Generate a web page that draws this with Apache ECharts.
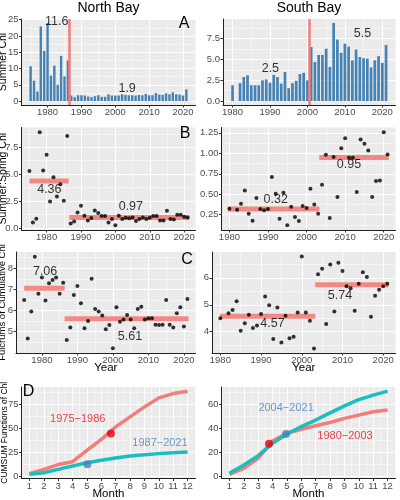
<!DOCTYPE html>
<html><head><meta charset="utf-8">
<script src="https://cdn.jsdelivr.net/npm/echarts@6/dist/echarts.min.js"></script>
<style>html,body{margin:0;padding:0;background:#fff}#c{width:400px;height:500px}</style>
</head><body><div id="c"></div>
<script>
// ---------------- DATA ----------------
const northYears = [1975,1976,1977,1978,1979,1980,1981,1982,1983,1984,1985,1986,1987,1988,1989,1990,1991,1992,1993,1994,1995,1996,1997,1998,1999,2000,2001,2002,2003,2004,2005,2006,2007,2008,2009,2010,2011,2012,2013,2014,2015,2016,2017,2018,2019,2020,2021];
const southYears = [1980,1982,1983,1984,1985,1986,1987,1988,1989,1990,1991,1992,1993,1994,1995,1996,1997,1998,1999,2000,2001,2002,2003,2004,2005,2006,2007,2008,2009,2010,2011,2012,2013,2014,2015,2016,2017,2018,2019,2020,2021];

// Panel A: summer Chl
const northSummerChl = [10.7,6.25,2.9,22.9,15.4,24.0,7.8,10.9,5.0,13.9,7.6,12.5,
  1.7,1.2,1.8,1.8,1.7,1.4,1.2,1.5,1.8,1.3,1.3,2.1,1.7,1.7,1.7,2.1,1.9,1.8,1.8,1.7,1.9,1.8,2.2,1.8,1.8,2.5,2.0,1.9,2.4,2.1,2.7,2.1,2.0,1.7,3.6];
const southSummerChl = [1.9,2.15,2.9,3.1,1.9,1.9,1.9,2.5,2.6,2.2,3.15,2.9,2.1,3.5,1.55,2.15,2.45,3.25,3.4,2.5,
  6.5,4.7,5.55,5.55,6.3,4.1,9.4,7.4,5.8,6.9,6.55,4.9,6.2,5.3,5.15,5.1,4.05,4.9,5.4,4.6,6.75];
const northBreakYear = 1986.5;
const southBreakYear = 2000.5;

// Panel B: summer:spring ratio
const northRatio = [5.3,0.52,0.86,8.9,5.35,6.8,2.47,4.72,2.93,4.07,2.53,8.55,
  0.43,0.62,1.45,2.07,1.14,0.71,0.93,1.64,1.39,1.11,1.11,0.52,0.83,0.25,1.14,0.83,0.96,0.9,0.99,0.65,0.83,0.99,0.83,0.96,1.11,1.11,0.71,0.71,1.6,0.83,0.8,1.23,1.23,1.05,0.99];
const southRatio = [0.323,0.311,0.384,0.547,0.262,0.177,0.453,0.319,0.303,0.319,0.709,0.506,0.201,0.518,0.12,0.348,0.222,0.173,0.356,0.331,0.567,0.376,0.262,
  0.616,0.982,0.209,0.955,0.465,1.063,1.185,0.945,0.945,0.526,1.169,1.116,1.035,0.465,0.66,0.669,1.258,0.986];
// period means: [startYear, endYear, mean]
const northRatioMeans = [[1975,1986.4,4.36],[1986.6,2021.5,0.97]];
const southRatioMeans = [[1979.7,2003.3,0.32],[2003.3,2021.3,0.95]];

// Panel C: fulcrums of cumulative Chl
const northFulcrum = [6.5,4.68,5.95,8.55,6.79,7.56,6.47,7.29,7.45,7.56,6.79,7.32,
  4.6,5.2,6.74,7.16,6.34,5.16,5.5,7.5,6.07,5.95,5.76,5.11,5.32,4.21,6.15,5.47,5.58,5.79,5.58,5.16,6.07,6.18,5.58,5.63,5.63,5.33,5.32,5.33,6.5,5.33,5.2,5.87,6.15,5.24,6.55];
const southFulcrum = [4.5,4.69,4.81,5.13,4.04,4.31,4.63,4.14,4.23,4.66,5.31,4.98,3.73,4.9,3.6,4.59,3.76,3.81,4.71,6.79,4.71,4.41,3.38,
  6.13,6.34,4.29,6.5,4.75,6.56,6.25,5.69,5.61,4.78,5.78,6.21,6.03,4.56,5.34,5.56,5.69,5.78];
const northFulcrumMeans = [[1975,1986.4,7.06],[1986.4,2021.3,5.61]];
const southFulcrumMeans = [[1979.9,2003.3,4.57],[2003.3,2021.3,5.74]];

// Panel D: CUMSUM functions
const months = [1,2,3,4,5,6,7,8,9,10,11,12];
const northEarlyCum = [2.5,7,12,15,27,38.5,51.5,62,72.5,82,86.5,89];
const northLateCum  = [1.75,3.5,7,10.5,14,16.5,19,21,22.4,23.5,24.5,25.2];
const southEarlyCum = [1.9,6.9,15.2,29.6,36,39.3,42.3,45,48.4,51.1,53.9,55.3];
const southLateCum  = [2.8,9.7,17.4,27.6,35.4,41.5,47,53,58.8,64,67.7,71];
const northEarlyFulcrum = [6.67,44.5];
const northLateFulcrum  = [5.03,12.3];
const southEarlyFulcrum = [3.75,27.4];
const southLateFulcrum  = [4.94,35.4];

// Tick labels
const yearTicks = ['1980','1990','2000','2010','2020'];
const monthTicks = ['1','2','3','4','5','6','7','8','9','10','11','12'];
const yTicksAN = ['0','5','10','15','20','25'];
const yTicksAS = ['0.0','2.5','5.0','7.5'];
const yTicksBN = ['0.0','2.5','5.0','7.5'];
const yTicksBS = ['0.25','0.50','0.75','1.00','1.25'];
const yTicksCN = ['5','6','7','8'];
const yTicksCS = ['4','5','6'];
const yTicksDN = ['0','25','50','75'];
const yTicksDS = ['0','20','40','60'];

// ---------------- STYLE / LAYOUT ----------------
const FONT = '"Liberation Sans", Arial, Helvetica, sans-serif';
const NARROW = '"Liberation Sans Narrow", "Arial Narrow", "Liberation Sans", sans-serif';
const SALMON = '#F27E79';
const TEAL = '#1CBDBE';
const STEEL = '#4682B4';

const grids = [], xAxes = [], yAxes = [], series = [];
function num(a){return a.map(Number);}
function minorOf(ticks){
  const t = num(ticks); const step = t[1]-t[0]; const out=[];
  for (let v = t[0]-step/2; v <= t[t.length-1]+step; v += step) out.push(+v.toFixed(6));
  return out;
}
function fmt(labels){
  const vals = num(labels);
  return function(v){ const i = vals.findIndex(x => Math.abs(x - v) < 1e-6); return i >= 0 ? labels[i] : ''; };
}
function addPanel(rect, xExt, yExt, xLabels, yLabels, xName, yName, yNameGap, yNameSize){
  const gi = grids.length;
  grids.push({left:rect[0], top:rect[1], width:rect[2], height:rect[3], show:true,
    backgroundColor:'#EBEBEB', borderWidth:0, containLabel:false, outerBoundsMode:'none'});
  const common = (ext) => ({type:'value', gridIndex:gi, min:ext[0], max:ext[1], scale:true});
  const xi = xAxes.length, yi = yAxes.length;
  const xv = num(xLabels), yv = num(yLabels);
  xAxes.push(Object.assign(common(xExt), {position:'bottom',
    axisLine:{show:true, onZero:false, lineStyle:{color:'#222', width:1}},
    axisTick:{show:true, length:2.5, lineStyle:{color:'#333'}, customValues:xv},
    axisLabel:{show:true, customValues:xv, formatter:fmt(xLabels), color:'#4D4D4D', fontSize:9.5, fontFamily:FONT, margin:2.5},
    splitLine:{show:true, lineStyle:{color:'#fff', width:1}},
    name:xName||'', nameLocation:'middle', nameGap:9, nameMoveOverlap:false,
    nameTextStyle:{color:'#000', fontSize:11.5, fontFamily:FONT, verticalAlign:'top'}}));
  xAxes.push(Object.assign(common(xExt), {position:'top', axisLine:{show:false},
    axisTick:{show:false, customValues:minorOf(xLabels).filter(v=>v>xExt[0]&&v<xExt[1])},
    axisLabel:{show:false}, splitLine:{show:true, lineStyle:{color:'#fff', width:0.5}}}));
  yAxes.push(Object.assign(common(yExt), {position:'left',
    axisLine:{show:true, onZero:false, lineStyle:{color:'#222', width:1}},
    axisTick:{show:true, length:2.5, lineStyle:{color:'#333'}, customValues:yv},
    axisLabel:{show:true, customValues:yv, formatter:fmt(yLabels), color:'#4D4D4D', fontSize:9.5, fontFamily:FONT, margin:3},
    splitLine:{show:true, lineStyle:{color:'#fff', width:1}},
    name:yName||'', nameLocation:'middle', nameRotate:90, nameGap:yNameGap||10, nameMoveOverlap:false,
    nameTextStyle:{color:'#000', fontSize:yNameSize||10.5, fontFamily:FONT}}));
  yAxes.push(Object.assign(common(yExt), {position:'right', axisLine:{show:false},
    axisTick:{show:false, customValues:minorOf(yLabels).filter(v=>v>yExt[0]&&v<yExt[1])},
    axisLabel:{show:false}, splitLine:{show:true, lineStyle:{color:'#fff', width:0.5}}}));
  return {xAxisIndex:xi, yAxisIndex:yi};
}
function zip(a,b){return a.map((v,i)=>[v,b[i]]);}
function textSeries(ax, items, color, size, font){
  series.push(Object.assign({type:'scatter', silent:true, z:10, symbolSize:1,
    itemStyle:{color:'transparent'},
    data: items.map(t => ({value:[t[0], t[1]], name:t[2]})),
    label:{show:true, position:'inside', formatter:'{b}', color:color, fontSize:size, fontFamily:font||NARROW}}, ax));
}
function meanSegs(ax, segs){
  segs.forEach(s => series.push(Object.assign({type:'line', silent:true, z:2, symbol:'none',
    data:[[s[0],s[2]],[s[1],s[2]]], lineStyle:{color:SALMON, width:5, opacity:0.9, cap:'butt'}}, ax)));
}
function dots(ax, years, vals){
  series.push(Object.assign({type:'scatter', silent:true, z:5, symbolSize:4, itemStyle:{color:'#000'},
    data: zip(years, vals)}, ax));
}

// Panel A
const aN = addPanel([21.5,19,174,86], [1972.3,2023.7], [-1.2,25.2], yearTicks, yTicksAN, '', 'Summer Chl', 12.5, 10.5);
series.push(Object.assign({type:'bar', barWidth:2.4, itemStyle:{color:STEEL}, data:zip(northYears, northSummerChl),
  markLine:{symbol:'none', silent:true, label:{show:false}, lineStyle:{color:SALMON, width:2.5, type:'solid'}, data:[{xAxis:northBreakYear}]}}, aN));
textSeries(aN, [[1982.7,24.4,'11.6'],[2003.5,3.7,'1.9']], '#000', 12.5);
const aS = addPanel([223,19,172.6,86], [1977.45,2023.55], [-0.47,9.87], yearTicks, yTicksAS, '', '', 0);
series.push(Object.assign({type:'bar', barWidth:2.7, itemStyle:{color:STEEL}, data:zip(southYears, southSummerChl),
  markLine:{symbol:'none', silent:true, label:{show:false}, lineStyle:{color:SALMON, width:2.5, type:'solid'}, data:[{xAxis:southBreakYear}]}}, aS));
textSeries(aS, [[1990.1,3.94,'2.5'],[2014.7,8.15,'5.5']], '#000', 12.5);

// Panel B
const bN = addPanel([21.5,127.5,174,102.5], [1972.7,2023.3], [-0.18,9.33], yearTicks, yTicksBN, '', 'Summer:Spring Chl', 12.5, 10.5);
meanSegs(bN, northRatioMeans); dots(bN, northYears, northRatio);
textSeries(bN, [[1980.8,3.53,'4.36'],[2004.5,1.98,'0.97']], '#000', 12.5);
const bS = addPanel([221.5,127.5,174,102.5], [1977.95,2023.05], [0.063,1.315], yearTicks, yTicksBS, '', '', 0);
meanSegs(bS, southRatioMeans); dots(bS, southYears, southRatio);
textSeries(bS, [[1992,0.43,'0.32'],[2011,0.857,'0.95']], '#000', 12.5);

// Panel C
const cN = addPanel([16,252,179.6,101], [1972.7,2023.3], [3.99,8.77], yearTicks, yTicksCN, 'Year', 'Fulcrums of Cumulative Chl', 8.5, 9.5);
meanSegs(cN, northFulcrumMeans); dots(cN, northYears, northFulcrum);
textSeries(cN, [[1980.9,7.84,'7.06'],[2004.8,4.79,'5.61']], '#000', 12.5);
const cS = addPanel([212,252,183.6,101], [1977.95,2023.05], [3.21,6.96], yearTicks, yTicksCS, 'Year', '', 0);
meanSegs(cS, southFulcrumMeans); dots(cS, southYears, southFulcrum);
textSeries(cS, [[1992.8,4.31,'4.57'],[2009.4,5.33,'5.74']], '#000', 12.5);

// Panel D
const dN = addPanel([21.5,387,174,91.5], [0.45,12.55], [-2.6,93.4], monthTicks, yTicksDN, 'Month', 'CUMSUM Functions of Chl', 12.5, 8.5);
function cumLine(ax, vals, color){
  series.push(Object.assign({type:'line', silent:true, z:3, symbol:'none', data:zip(months, vals),
    lineStyle:{color:color, width:3.5, join:'round'}}, ax));
}
function fulcrumDot(ax, pt, color){
  series.push(Object.assign({type:'scatter', silent:true, z:6, symbolSize:8, itemStyle:{color:color}, data:[pt]}, ax));
}
cumLine(dN, northEarlyCum, SALMON); cumLine(dN, northLateCum, TEAL);
fulcrumDot(dN, northEarlyFulcrum, '#E8000B'); fulcrumDot(dN, northLateFulcrum, '#4A80B8');
textSeries(dN, [[4.36,59.8,'1975\u22121986']], '#E8141C', 11);
textSeries(dN, [[10.08,34.3,'1987\u22122021']], '#4A80B8', 11);
const dS = addPanel([221.5,387,174,91.5], [0.45,12.55], [-1.56,74.46], monthTicks, yTicksDS, 'Month', '', 0);
cumLine(dS, southEarlyCum, SALMON); cumLine(dS, southLateCum, TEAL);
fulcrumDot(dS, southEarlyFulcrum, '#E8000B'); fulcrumDot(dS, southLateFulcrum, '#4A80B8');
textSeries(dS, [[4.94,56.7,'2004\u22122021']], '#4A80B8', 11);
textSeries(dS, [[9.04,33.7,'1980\u22122003']], '#E8141C', 11);

function gtext(x, y, text, size){
  return {type:'text', x:x, y:y, silent:true, z:20,
    style:{text:text, fill:'#000', font: size + 'px ' + FONT, align:'center', verticalAlign:'middle', textAlign:'center', textVerticalAlign:'middle'}};
}
const option = {
  animation:false,
  backgroundColor:'#fff',
  grid:grids, xAxis:xAxes, yAxis:yAxes, series:series,
  graphic:[
    gtext(108.5, 8.5, 'North Bay', 14),
    gtext(309, 8.5, 'South Bay', 14),
    gtext(184, 24, 'A', 16),
    gtext(185, 133.5, 'B', 16),
    gtext(187, 260, 'C', 16),
    gtext(28.5, 392, 'D', 16)
  ]
};
const chart = echarts.init(document.getElementById('c'), null, {renderer:'canvas', width:400, height:500});
chart.setOption(option);
</script></body></html>
